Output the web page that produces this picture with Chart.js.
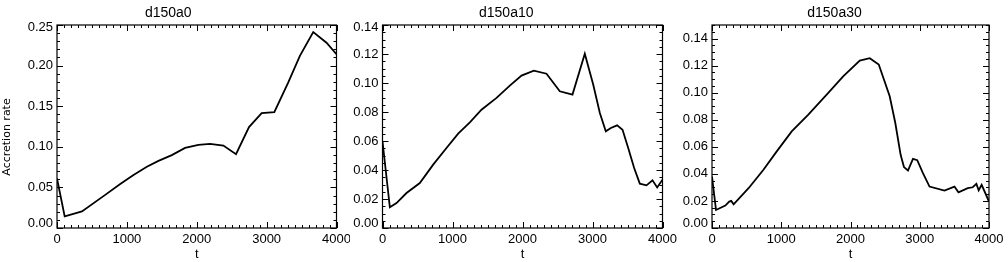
<!DOCTYPE html>
<html>
<head>
<meta charset="utf-8">
<script src="https://cdn.jsdelivr.net/npm/chart.js@4.4.1/dist/chart.umd.min.js"></script>
<style>
  html, body { margin: 0; padding: 0; background: #fff; }
  #wrap { position: relative; width: 1008px; height: 262px; overflow: hidden; }
  canvas { position: absolute; top: 0; }
</style>
</head>
<body>
<div id="wrap">
  <canvas id="c0" style="left:0px" width="350" height="262"></canvas>
  <canvas id="c1" style="left:350px" width="330" height="262"></canvas>
  <canvas id="c2" style="left:680px" width="328" height="262"></canvas>
</div>
<script>
// Data (t, accretion rate)
const titles = ['d150a0', 'd150a10', 'd150a30'];
const xTicks = [0, 1000, 2000, 3000, 4000];

const tA0 = [0, 110, 357, 690, 905, 1095, 1286, 1452, 1643, 1833, 2024, 2190, 2381, 2562, 2748, 2929, 3110, 3310, 3476, 3667, 3857, 4000];
const rateA0 = [0.061, 0.0143, 0.0204, 0.0408, 0.0542, 0.0652, 0.0754, 0.0827, 0.0897, 0.0986, 0.1023, 0.1035, 0.1015, 0.0909, 0.1243, 0.1414, 0.1426, 0.1793, 0.212, 0.2412, 0.2282, 0.214];

const tA10 = [0, 105, 200, 343, 533, 724, 914, 1081, 1248, 1414, 1629, 1819, 1986, 2162, 2343, 2533, 2714, 2890, 3010, 3105, 3190, 3262, 3352, 3429, 3510, 3595, 3676, 3771, 3857, 3924, 4000];
const rateA10 = [0.0598, 0.0143, 0.0172, 0.0241, 0.031, 0.0437, 0.0552, 0.0651, 0.0729, 0.0816, 0.0897, 0.0982, 0.1051, 0.1085, 0.1064, 0.0943, 0.092, 0.1202, 0.0989, 0.0793, 0.0667, 0.069, 0.0708, 0.0678, 0.0552, 0.0414, 0.0306, 0.0294, 0.0329, 0.028, 0.0333];

const tA30 = [0, 58, 192, 249, 278, 312, 528, 743, 935, 1151, 1391, 1679, 1894, 2134, 2278, 2408, 2566, 2647, 2724, 2772, 2830, 2902, 2964, 3046, 3141, 3357, 3501, 3559, 3693, 3765, 3818, 3851, 3894, 4000];
const rateA30 = [0.038, 0.0133, 0.0166, 0.0195, 0.02, 0.0175, 0.0294, 0.043, 0.0566, 0.0714, 0.0837, 0.0998, 0.1121, 0.1237, 0.1255, 0.1208, 0.0973, 0.0776, 0.0541, 0.045, 0.0425, 0.0511, 0.0501, 0.0405, 0.0306, 0.0277, 0.0306, 0.0264, 0.0294, 0.0301, 0.0326, 0.0279, 0.0319, 0.0195];

const yMaxes = [0.25, 0.14, 0.15];
const ySteps = [0.05, 0.02, 0.02];
const yMinors = [0.01, 0.005, 0.005];

const series = [[tA0, rateA0], [tA10, rateA10], [tA30, rateA30]];

// layout of each canvas: y-axis width and right padding
const panelLayout = [
  { yWidth: 57, padRight: 13.5 },
  { yWidth: 32.5, padRight: 17.5 },
  { yWidth: 32, padRight: 19 }
];

Chart.defaults.font.family = '"Liberation Sans", Arial, Helvetica, sans-serif';
Chart.defaults.color = '#000';

// frame with inward major/minor ticks on all four sides (IDL style)
const frameTicks = {
  id: 'frameTicks',
  beforeDraw(chart) {
    const y = chart.scales.y;
    const items = y.getLabelItems(chart.chartArea);
    if (items._nudged) return;
    items.forEach((it, i) => {
      const v = y.ticks[i].value;
      if (Math.abs(v - y.min) < 1e-9) it.textOffset -= 5;
      if (Math.abs(v - y.max) < 1e-9) it.textOffset += 2;
    });
    items._nudged = true;
  },
  afterDatasetsDraw(chart, args, opts) {
    const { ctx, chartArea: a, scales: { x, y } } = chart;
    ctx.save();
    ctx.strokeStyle = '#000';
    ctx.lineWidth = 1.2;
    ctx.strokeRect(a.left, a.top, a.right - a.left, a.bottom - a.top);
    ctx.lineWidth = 1;
    ctx.beginPath();
    const isMajor = (v, step) => Math.abs(v / step - Math.round(v / step)) < 1e-6;
    for (let k = 0; k * opts.xMinor <= x.max + 1e-9; k++) {
      const v = k * opts.xMinor;
      const px = Math.round(x.getPixelForValue(v)) + 0.5;
      const len = isMajor(v, opts.xMajor) ? 6 : 3;
      ctx.moveTo(px, a.bottom); ctx.lineTo(px, a.bottom - len);
      ctx.moveTo(px, a.top); ctx.lineTo(px, a.top + len);
    }
    for (let k = 0; k * opts.yMinor <= y.max + 1e-9; k++) {
      const v = k * opts.yMinor;
      const py = Math.round(y.getPixelForValue(v)) + 0.5;
      const len = isMajor(v, opts.yMajor) ? 6 : 3;
      ctx.moveTo(a.left, py); ctx.lineTo(a.left + len, py);
      ctx.moveTo(a.right, py); ctx.lineTo(a.right - len, py);
    }
    ctx.stroke();
    ctx.restore();
  }
};

function makePanel(i) {
  const [ts, rates] = series[i];
  const lay = panelLayout[i];
  const ctx = document.getElementById('c' + i).getContext('2d');
  return new Chart(ctx, {
    type: 'line',
    data: {
      datasets: [{
        data: ts.map((t, k) => ({ x: t, y: rates[k] })),
        borderColor: '#000',
        borderWidth: 1.8,
        pointRadius: 0,
        tension: 0,
        fill: false
      }]
    },
    options: {
      responsive: false,
      animation: false,
      devicePixelRatio: 1,
      layout: { padding: { top: 0, right: lay.padRight, bottom: 0, left: 0 } },
      plugins: {
        legend: { display: false },
        tooltip: { enabled: false },
        title: {
          display: true,
          text: titles[i],
          color: '#000',
          font: { size: 14, weight: 'normal' },
          padding: { top: 5, bottom: 3.2 }
        },
        frameTicks: { xMajor: 1000, xMinor: 100, yMajor: ySteps[i], yMinor: yMinors[i] }
      },
      scales: {
        x: {
          type: 'linear',
          min: xTicks[0],
          max: xTicks[xTicks.length - 1],
          grid: { display: false, drawTicks: false },
          border: { display: false },
          ticks: {
            stepSize: 1000,
            autoSkip: false,
            maxRotation: 0,
            padding: 4,
            font: { size: 13 },
            callback: v => String(v)
          },
          title: { display: true, text: 't', font: { size: 13 }, padding: { top: 0, bottom: 0 } },
          afterFit(s) { s.height = 34; s.paddingLeft = 0; s.paddingRight = 0; }
        },
        y: {
          min: 0,
          max: yMaxes[i],
          grid: { display: false, drawTicks: false },
          border: { display: false },
          ticks: {
            stepSize: ySteps[i],
            includeBounds: false,
            padding: 4,
            font: { size: 13 },
            callback: v => v.toFixed(2)
          },
          title: {
            display: i === 0,
            text: 'Accretion rate      ',
            font: { family: '"DejaVu Sans", sans-serif', size: 11 },
            padding: { top: 1, bottom: 0 }
          },
          afterFit(s) { s.width = lay.yWidth; s.paddingTop = 0; s.paddingBottom = 0; }
        }
      }
    },
    plugins: [frameTicks]
  });
}

[0, 1, 2].forEach(makePanel);
</script>
</body>
</html>
